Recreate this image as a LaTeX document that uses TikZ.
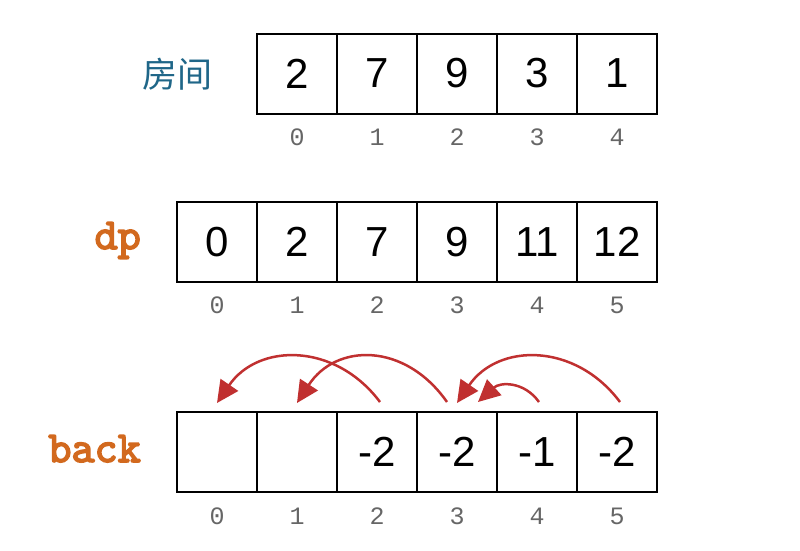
\documentclass[tikz,border=0pt]{standalone}
\usepackage{fontspec}
\setmainfont{Liberation Sans}
\newfontfamily\cjkfont{Noto Sans CJK SC}
\newfontfamily\monofont{Liberation Mono}
\newfontfamily\courfont[FakeBold=3.5]{lmmono10-regular.otf}
\usetikzlibrary{arrows.meta}
\definecolor{labblue}{HTML}{1F6688}
\definecolor{laborange}{HTML}{D2691E}
\definecolor{arrred}{HTML}{C03030}
\definecolor{idxgray}{HTML}{666666}
\begin{document}
\begin{tikzpicture}[x=1pt,y=-1pt,
  cell/.style={draw=black,line width=2pt,minimum width=80pt,minimum height=80pt,inner sep=0pt,font=\fontsize{42}{42}\selectfont},
  idx/.style={inner sep=0pt,text=idxgray,font=\monofont\fontsize{25}{25}\selectfont},
  rowlab/.style={inner sep=0pt,text=laborange,font=\courfont\fontsize{44}{44}\selectfont},
  backarrow/.style={draw=arrred,line width=2.5pt,-{Triangle[length=22pt,width=21pt]}}]
\useasboundingbox (0,0) rectangle (800,550);
% row 1
\node[inner sep=0pt,text=labblue,font=\cjkfont\fontsize{35}{35}\selectfont] (lroom) at (177,74) {房间};
\foreach \v [count=\i from 0] in {2,7,9,3,1} {
  \node[cell] (r\i) at (297+80*\i,73.5) {\v};
  \node[idx] (ri\i) at (297+80*\i,137) {\i};
}
% row 2
\node[rowlab,anchor=base east] (ldp) at (141,249) {dp};
\foreach \v [count=\i from 0] in {0,2,7,9,11,12} {
  \node[cell] (d\i) at (217+80*\i,242) {\v};
  \node[idx] (di\i) at (217+80*\i,305) {\i};
}
% row 3
\node[rowlab,anchor=base east] (lback) at (141,462) {back};
\foreach \v [count=\i from 0] in {{},{},-2,-2,-1,-2} {
  \node[cell] (b\i) at (217+80*\i,452) {\v};
  \node[idx] (bi\i) at (217+80*\i,516) {\i};
}
% arrow end points
\coordinate (s2) at ([xshift=3pt,yshift=9pt]b2.north);
\coordinate (t0) at ([yshift=8pt]b0.north);
\coordinate (s3) at ([xshift=-10pt,yshift=9pt]b3.north);
\coordinate (t1) at ([yshift=8pt]b1.north);
\coordinate (s5) at ([xshift=3pt,yshift=9pt]b5.north);
\coordinate (t3) at ([yshift=8pt]b3.north);
\coordinate (s4) at ([xshift=2pt,yshift=9pt]b4.north);
\coordinate (t3b) at ([xshift=21pt,yshift=9pt]b3.north);
\draw[backarrow] (s2) .. controls +(-45,-60) and +(41,-60) .. (t0);
\draw[backarrow] (s3) .. controls +(-42,-60) and +(39,-60) .. (t1);
\draw[backarrow] (s5) .. controls +(-45,-60) and +(41,-60) .. (t3);
\draw[backarrow] (s4) .. controls +(-15,-21) and +(22,-20) .. (t3b);
\end{tikzpicture}
\end{document}
